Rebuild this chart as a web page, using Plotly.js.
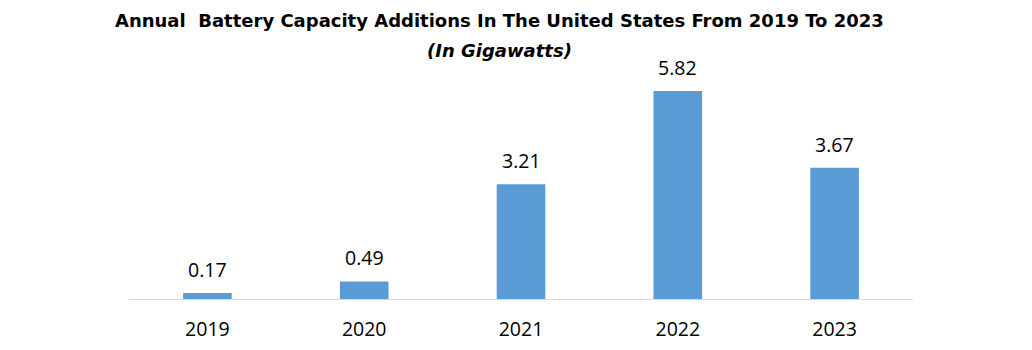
<!DOCTYPE html>
<html><head><meta charset="utf-8">
<script src="https://cdn.plot.ly/plotly-3.0.1.min.js"></script>
<style>body{margin:0;background:#fff}#c{width:1032px;height:350px}</style>
</head><body><div id="c"></div>
<script>
const years = [2019, 2020, 2021, 2022, 2023];
const yearLabels = ['2019','2020','2021','2022','2023'];
const capacity = [0.17, 0.49, 3.21, 5.82, 3.67];
const valueLabels = ['0.17','0.49','3.21','5.82','3.67'];
const titleLine1 = 'Annual  Battery Capacity Additions In The United States From 2019 To 2023';
const titleLine2 = '(In Gigawatts)';

const font = '"DejaVu Sans", sans-serif';
const labelFont = '"Open Sans", "Liberation Sans", sans-serif';

const trace = {
  type: 'bar', x: years, y: capacity, width: 0.31,
  marker: {color: '#5B9BD5'}, hoverinfo: 'none'
};
const ann = years.map((yr, i) => ({
  x: yr, y: capacity[i], xref: 'x', yref: 'y', text: valueLabels[i],
  showarrow: false, yanchor: 'bottom', yshift: 8,
  font: {family: labelFont, size: 19.5, color: '#000'}
}));
ann.push({xref: 'paper', yref: 'paper', x: 0.473, y: 1, yshift: 40, yanchor: 'middle',
  text: '<b>' + titleLine1 + '</b>', showarrow: false,
  font: {family: font, size: 18, color: '#000'}});
ann.push({xref: 'paper', yref: 'paper', x: 0.473, y: 1, yshift: 10, yanchor: 'middle',
  text: '<b><i>' + titleLine2 + '</i></b>', showarrow: false,
  font: {family: font, size: 18, color: '#000'}});

Plotly.newPlot('c', [trace], {
  width: 1032, height: 350,
  margin: {l: 129, r: 119, t: 60, b: 51},
  paper_bgcolor: '#fff', plot_bgcolor: '#fff',
  showlegend: false,
  xaxis: {range: [2018.5, 2023.5], tickvals: years, ticktext: yearLabels,
    showline: true, linecolor: '#D9D9D9', linewidth: 1,
    ticks: '', showgrid: false, zeroline: false, ticklabelstandoff: 13,
    tickfont: {family: labelFont, size: 19.5, color: '#000'}},
  yaxis: {range: [0, 6.687], visible: false, showgrid: false, zeroline: false},
  annotations: ann
}, {staticPlot: true});
</script></body></html>
